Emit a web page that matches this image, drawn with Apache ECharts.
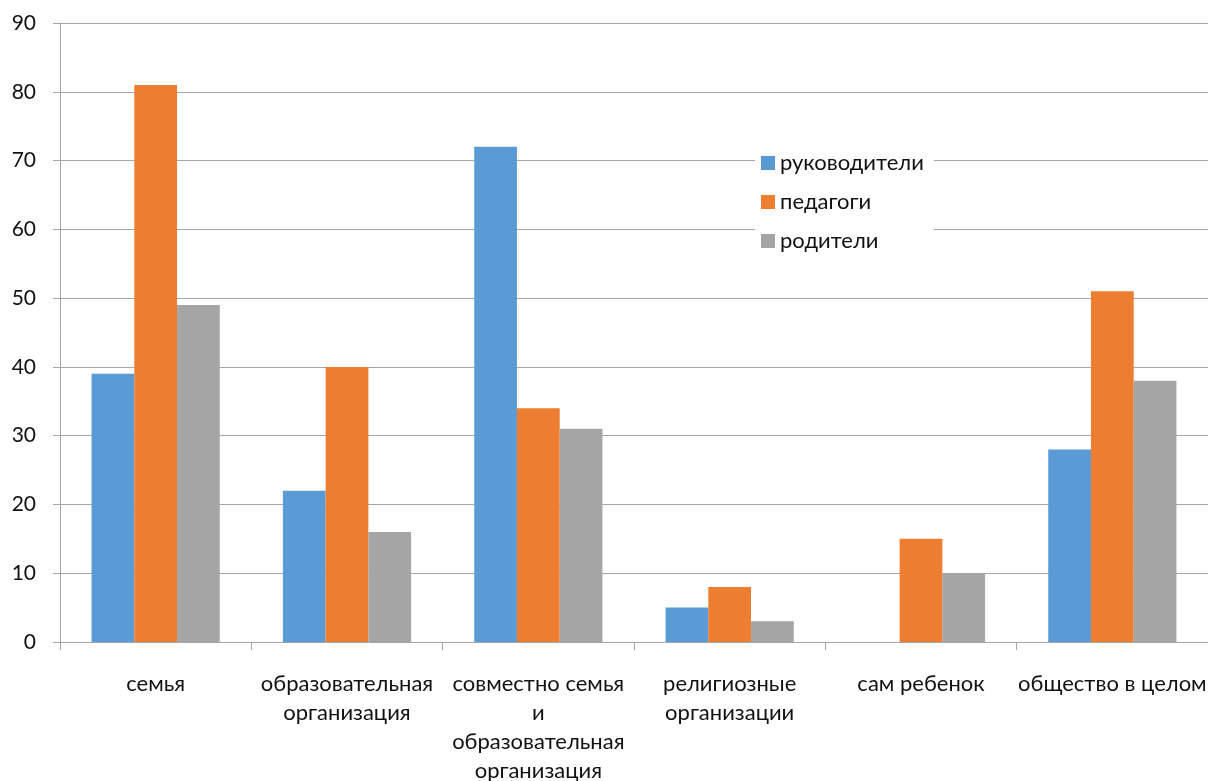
<!DOCTYPE html>
<html><head><meta charset="utf-8">
<script src="https://cdn.jsdelivr.net/npm/echarts@6/dist/echarts.min.js"></script>
<style>html,body{margin:0;padding:0;background:#fff}#c{width:1208px;height:781px}</style>
</head><body><div id="c"></div>
<script>
const categories = ['семья', 'образовательная\nорганизация', 'совместно семья\nи\nобразовательная\nорганизация', 'религиозные\nорганизации', 'сам ребенок', 'общество в целом'];
const seriesNames = ['руководители', 'педагоги', 'родители'];
const rukovoditeli = [39, 22, 72, 5, null, 28];
const pedagogi = [81, 40, 34, 8, 15, 51];
const roditeli = [49, 16, 31, 3, 10, 38];
const colors = ['#5B9BD5', '#ED7D31', '#A5A5A5'];
const font = 'Lato';
const chart = echarts.init(document.getElementById('c'));
chart.setOption({
  animation: false,
  textStyle: { fontFamily: font },
  grid: { left: 60, right: 0, top: 23, bottom: 139, containLabel: false, outerBoundsMode: 'none' },
  legend: {
    orient: 'vertical', left: 755, top: 146,
    itemWidth: 14, itemHeight: 14, itemGap: 17,
    icon: 'rect',
    backgroundColor: '#fff', padding: [6, 10, 6, 6],
    textStyle: { fontSize: 22, color: '#111', fontFamily: font },
    data: seriesNames
  },
  xAxis: {
    type: 'category', data: categories,
    axisLine: { lineStyle: { color: '#A6A6A6', width: 1 } },
    axisTick: { show: true, length: 8, lineStyle: { color: '#A6A6A6' } },
    axisLabel: { fontSize: 22, color: '#111', lineHeight: 29, margin: 27, interval: 0, fontFamily: font }
  },
  yAxis: {
    type: 'value', min: 0, max: 90, interval: 10,
    axisLine: { show: true, lineStyle: { color: '#A6A6A6' } },
    axisTick: { show: true, length: 7, inside: false, lineStyle: { color: '#A6A6A6' } },
    splitLine: { lineStyle: { color: '#A6A6A6', width: 1 } },
    axisLabel: { fontSize: 21, color: '#111', margin: 24, fontFamily: font }
  },
  series: [
    { name: seriesNames[0], type: 'bar', data: rukovoditeli, itemStyle: { color: colors[0] }, barGap: '0%', barCategoryGap: '33%' },
    { name: seriesNames[1], type: 'bar', data: pedagogi, itemStyle: { color: colors[1] }, barGap: '0%', barCategoryGap: '33%' },
    { name: seriesNames[2], type: 'bar', data: roditeli, itemStyle: { color: colors[2] }, barGap: '0%', barCategoryGap: '33%' }
  ]
});
</script></body></html>
